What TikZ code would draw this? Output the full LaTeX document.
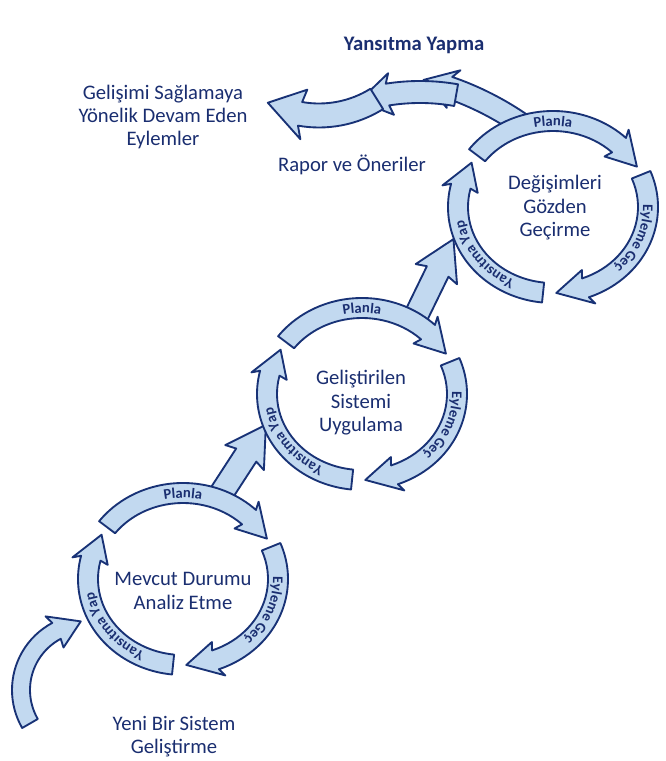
\documentclass[tikz,border=0pt]{standalone}
\usepackage{fontspec}
\setmainfont{Carlito}
\usetikzlibrary{decorations.text}
\definecolor{bandfill}{RGB}{194,217,240}
\definecolor{bandline}{RGB}{24,50,118}
\definecolor{labeltext}{RGB}{26,46,112}
\begin{document}
\begin{tikzpicture}[x=0.75pt, y=0.75pt,
  band/.style={fill=bandfill, draw=bandline, line width=1.4pt, line join=round},
  lbl/.style={text=labeltext, font=\fontsize{15.5}{17.6}\selectfont, align=center},
  arclabel/.style={decorate, decoration={text along path, text align=center,
    text color=labeltext, text={|\fontsize{11}{12}\selectfont\bfseries|#1}}}]
\useasboundingbox (0,0) rectangle (665,761);

% incoming arrow
\begin{scope}[shift={(88,71)}]
\filldraw[band] (210:76) arc[start angle=210, end angle=118, radius=76] -- (120:85) -- (96:69)
  -- (120:49) -- (118:58) arc[start angle=118, end angle=210, radius=58] -- cycle;
\end{scope}

% arrows between the cycles
\begin{scope}[shift={(219,264)}, rotate=57]
\filldraw[band] (0,-12) -- (50,-12) -- (47,-23) -- (86,0) -- (47,23) -- (50,12) -- (0,12) -- cycle;
\end{scope}
\begin{scope}[shift={(414,441)}, rotate=64]
\filldraw[band] (0,-12) -- (54,-12) -- (51,-23) -- (90,0) -- (51,23) -- (54,12) -- (0,12) -- cycle;
\end{scope}

% Yansitma Yapma
\begin{scope}[shift={(351,390)}]
\filldraw[band] (55:311) arc[start angle=55, end angle=71, radius=311] -- (70:320) -- (76:300)
  -- (70:280) -- (71:289) arc[start angle=71, end angle=55, radius=289] -- cycle;
\end{scope}
\begin{scope}[shift={(420,461)}]
\filldraw[band] (80:219) arc[start angle=80, end angle=99, radius=219] -- (98:229) -- (107:208)
  -- (98:187) -- (99:197) arc[start angle=99, end angle=80, radius=197] -- cycle;
\end{scope}
\begin{scope}[shift={(319,754.5)}]
\filldraw[band] (-58:121) arc[start angle=-58, end angle=-100, radius=121] -- (-98:134) -- (-118:109)
  -- (-98:84) -- (-100:97) arc[start angle=-100, end angle=-58, radius=97] -- cycle;
\end{scope}

% cycle 1
\begin{scope}[shift={(183,182)}]
\filldraw[band] (143:105 and 96) arc[start angle=143, end angle=46, x radius=105, y radius=96]
  -- (48:113 and 104) -- (28:95 and 86) -- (48:77 and 68) -- (46:85 and 76)
  arc[start angle=46, end angle=143, x radius=85, y radius=76] -- cycle;
\filldraw[band] (22:105 and 96) arc[start angle=22, end angle=-70, x radius=105, y radius=96]
  -- (-68:113 and 104) -- (-88:95 and 86) -- (-68:77 and 68) -- (-70:85 and 76)
  arc[start angle=-70, end angle=22, x radius=85, y radius=76] -- cycle;
\filldraw[band] (264:105 and 96) arc[start angle=264, end angle=166, x radius=105, y radius=96]
  -- (168:113 and 104) -- (149:95 and 86) -- (168:77 and 68) -- (166:85 and 76)
  arc[start angle=166, end angle=264, x radius=85, y radius=76] -- cycle;
\path[arclabel=Planla] (140:90 and 81) arc[start angle=140, end angle=40, x radius=90, y radius=81];
\path[arclabel=Eyleme Geç] (20:90 and 81) arc[start angle=20, end angle=-64, x radius=90, y radius=81];
\path[arclabel=Yansıtma Yap] (262:90 and 81) arc[start angle=262, end angle=170, x radius=90, y radius=81];
\end{scope}

% cycle 2
\begin{scope}[shift={(362,367)}]
\filldraw[band] (143:105 and 96) arc[start angle=143, end angle=46, x radius=105, y radius=96]
  -- (48:113 and 104) -- (28:95 and 86) -- (48:77 and 68) -- (46:85 and 76)
  arc[start angle=46, end angle=143, x radius=85, y radius=76] -- cycle;
\filldraw[band] (22:105 and 96) arc[start angle=22, end angle=-70, x radius=105, y radius=96]
  -- (-68:113 and 104) -- (-88:95 and 86) -- (-68:77 and 68) -- (-70:85 and 76)
  arc[start angle=-70, end angle=22, x radius=85, y radius=76] -- cycle;
\filldraw[band] (264:105 and 96) arc[start angle=264, end angle=166, x radius=105, y radius=96]
  -- (168:113 and 104) -- (149:95 and 86) -- (168:77 and 68) -- (166:85 and 76)
  arc[start angle=166, end angle=264, x radius=85, y radius=76] -- cycle;
\path[arclabel=Planla] (140:90 and 81) arc[start angle=140, end angle=40, x radius=90, y radius=81];
\path[arclabel=Eyleme Geç] (20:90 and 81) arc[start angle=20, end angle=-64, x radius=90, y radius=81];
\path[arclabel=Yansıtma Yap] (262:90 and 81) arc[start angle=262, end angle=170, x radius=90, y radius=81];
\end{scope}

% cycle 3
\begin{scope}[shift={(553,554)}]
\filldraw[band] (143:105 and 96) arc[start angle=143, end angle=46, x radius=105, y radius=96]
  -- (48:113 and 104) -- (28:95 and 86) -- (48:77 and 68) -- (46:85 and 76)
  arc[start angle=46, end angle=143, x radius=85, y radius=76] -- cycle;
\filldraw[band] (22:105 and 96) arc[start angle=22, end angle=-70, x radius=105, y radius=96]
  -- (-68:113 and 104) -- (-88:95 and 86) -- (-68:77 and 68) -- (-70:85 and 76)
  arc[start angle=-70, end angle=22, x radius=85, y radius=76] -- cycle;
\filldraw[band] (264:105 and 96) arc[start angle=264, end angle=166, x radius=105, y radius=96]
  -- (168:113 and 104) -- (149:95 and 86) -- (168:77 and 68) -- (166:85 and 76)
  arc[start angle=166, end angle=264, x radius=85, y radius=76] -- cycle;
\path[arclabel=Planla] (140:90 and 81) arc[start angle=140, end angle=40, x radius=90, y radius=81];
\path[arclabel=Eyleme Geç] (20:90 and 81) arc[start angle=20, end angle=-64, x radius=90, y radius=81];
\path[arclabel=Yansıtma Yap] (262:90 and 81) arc[start angle=262, end angle=170, x radius=90, y radius=81];
\end{scope}

% texts
\node[lbl] (mevcut) at (183,170) {Mevcut Durumu\\Analiz Etme};
\node[lbl] (sistem) at (361,358) {Geliştirilen\\Sistemi\\Uygulama};
\node[lbl] (gozden) at (555,553) {Değişimleri\\Gözden\\Geçirme};
\node[lbl] (yeni) at (174,24.5) {Yeni Bir Sistem\\Geliştirme};
\node[lbl] (rapor) at (352,596) {Rapor ve Öneriler};
\node[lbl, font=\fontsize{15.5}{17.6}\selectfont\bfseries] (yapma) at (414,716) {Yansıtma Yapma};
\node[lbl] (eylem) at (163,644) {Gelişimi Sağlamaya\\Yönelik Devam Eden\\Eylemler};
\end{tikzpicture}
\end{document}
